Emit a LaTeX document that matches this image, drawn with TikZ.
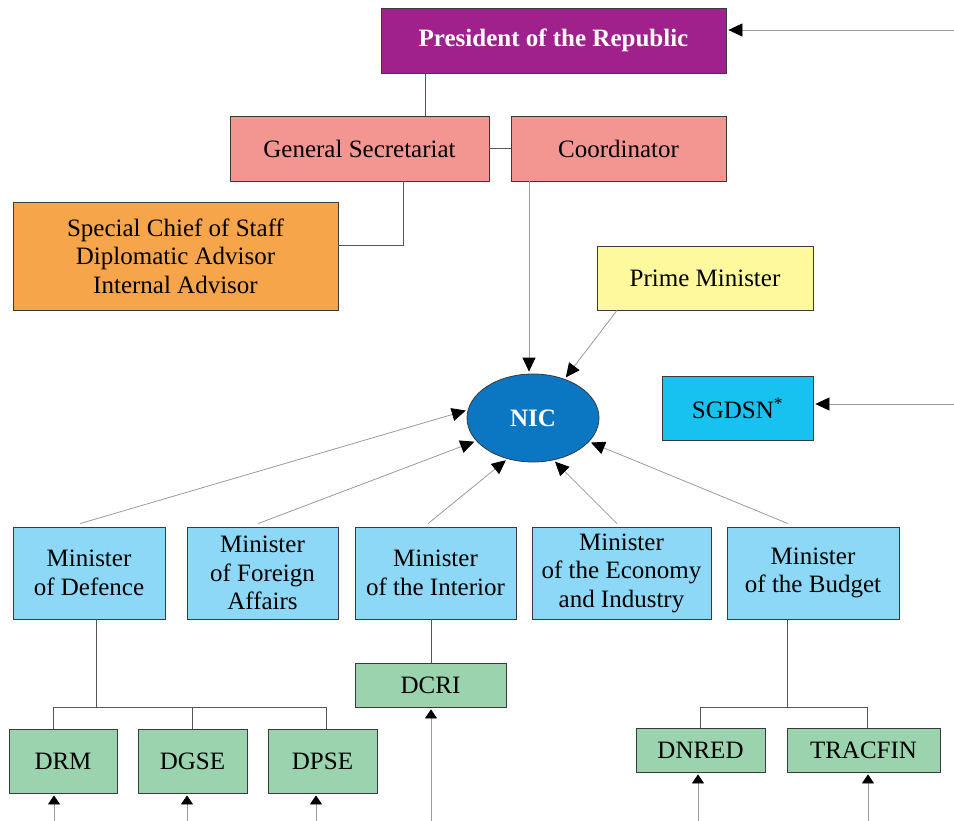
\documentclass[tikz,border=0pt]{standalone}
\usepackage{fontspec}
\setmainfont{Liberation Serif}
\usetikzlibrary{arrows.meta,shapes.geometric}

\definecolor{boxline}{HTML}{3A3A3A}
\definecolor{linkgrey}{HTML}{555555}
\definecolor{feedgrey}{HTML}{9A9A9A}
\definecolor{presfill}{HTML}{A0218C}
\definecolor{secfill}{HTML}{F39591}
\definecolor{advfill}{HTML}{F7A54A}
\definecolor{pmfill}{HTML}{FFF99E}
\definecolor{nicfill}{HTML}{0B77C2}
\definecolor{sgfill}{HTML}{17C2F0}
\definecolor{minfill}{HTML}{8DD8F6}
\definecolor{agfill}{HTML}{9AD3AE}

\tikzset{
  org/.style={draw=boxline, line width=0.8pt, align=center, inner sep=0pt,
    font=\fontsize{25}{28.5}\selectfont},
  link/.style={draw=linkgrey, line width=0.9pt},
  feed/.style={draw=feedgrey, line width=0.8pt, shorten >=2pt,
    -{Triangle[length=14pt,width=13pt,color=black]}},
  feedup/.style={draw=feedgrey, line width=0.8pt, shorten >=2pt,
    -{Triangle[length=9pt,width=12pt,color=black]}},
}

\begin{document}
\begin{tikzpicture}[x=1pt,y=-1pt]
\useasboundingbox (0,0) rectangle (954,821);

% Top
\node[org, fill=presfill, text=white, minimum width=345pt, minimum height=65pt,
  font=\fontsize{25}{28.5}\selectfont\bfseries] (pres) at (553.5,40.5) {President of the Republic};
\node[org, fill=secfill, minimum width=259pt, minimum height=65pt] (gen-sec) at (359.5,148.5) {General Secretariat};
\node[org, fill=secfill, minimum width=215pt, minimum height=65pt] (coord) at (618.5,148.5) {Coordinator};
\node[org, fill=advfill, minimum width=325pt, minimum height=108pt] (advisors) at (175.5,256)
  {Special Chief of Staff\\Diplomatic Advisor\\Internal Advisor};
\node[org, fill=pmfill, minimum width=216pt, minimum height=64pt] (pm) at (705,278) {Prime Minister};
\node[org, ellipse, fill=nicfill, text=white, minimum width=132pt, minimum height=88pt,
  font=\fontsize{25}{28.5}\selectfont\bfseries] (nic) at (533,418) {NIC};
\node[org, fill=sgfill, minimum width=151pt, minimum height=64pt] (sgdsn) at (737.5,408) {SGDSN\textsuperscript{*}};

% Ministers
\node[org, fill=minfill, minimum width=152pt, minimum height=92pt] (def) at (89,573) {Minister\\of Defence};
\node[org, fill=minfill, minimum width=151pt, minimum height=92pt] (foreign) at (262.5,573) {Minister\\of Foreign\\Affairs};
\node[org, fill=minfill, minimum width=161pt, minimum height=92pt] (interior) at (435.5,573) {Minister\\of the Interior};
\node[org, fill=minfill, minimum width=179pt, minimum height=92pt] (economy) at (621.5,573) {Minister\\of the Economy\\and Industry};
\node[org, fill=minfill, minimum width=172pt, minimum height=92pt] (budget) at (813,573) {Minister\\of the Budget};

% Agencies
\node[org, fill=agfill, minimum width=108pt, minimum height=64pt] (drm) at (63,761) {DRM};
\node[org, fill=agfill, minimum width=109pt, minimum height=64pt] (dgse) at (192.5,761) {DGSE};
\node[org, fill=agfill, minimum width=109pt, minimum height=64pt] (dpse) at (322.5,761) {DPSE};
\node[org, fill=agfill, minimum width=151pt, minimum height=44pt] (dcri) at (430.5,685) {DCRI};
\node[org, fill=agfill, minimum width=129pt, minimum height=44pt] (dnred) at (700.5,750) {DNRED};
\node[org, fill=agfill, minimum width=153pt, minimum height=44pt] (tracfin) at (863.5,750) {TRACFIN};

% Free ends
\coordinate (pres-in) at (954,30);
\coordinate (sgdsn-in) at (954,404);
\coordinate (drm-in) at (54,821);
\coordinate (dgse-in) at (187,821);
\coordinate (dpse-in) at (316,821);
\coordinate (dcri-in) at (431,821);
\coordinate (dnred-in) at (698,821);
\coordinate (tracfin-in) at (868,821);
\coordinate (def-fork) at (96,707);
\coordinate (budget-fork) at (787,707);

% Hierarchy
\draw[link] ([xshift=-128.5pt]pres.south) -- ([xshift=-128.5pt]pres.south |- gen-sec.north);
\draw[link] (gen-sec) -- (coord);
\draw[link] ([xshift=43.5pt]gen-sec.south) |- ([yshift=11pt]advisors.east);
\draw[link] (def-fork) -- (def-fork |- def.south);
\draw[link] ([xshift=-10pt]drm.north) |- ([xshift=3.5pt]dpse.north |- def-fork) -- ([xshift=3.5pt]dpse.north);
\draw[link] (dgse.north) -- (dgse.north |- def-fork);
\draw[link] ([xshift=0.5pt]dcri.north) -- ([xshift=0.5pt]dcri.north |- interior.south);
\draw[link] (budget-fork) -- (budget-fork |- budget.south);
\draw[link] (dnred.north) |- ([xshift=3.5pt]tracfin.north |- budget-fork) -- ([xshift=3.5pt]tracfin.north);

% Arrows into NIC
\draw[feed] ([xshift=-89.5pt]coord.south) -- ([xshift=-89.5pt]coord.south |- nic.north);
\draw[feed] ([xshift=-88pt]pm.south) -- (nic.51);
\draw[feed] ([xshift=-9pt,yshift=3pt]def.north) -- (nic.173);
\draw[feed] ([xshift=-4.5pt,yshift=3pt]foreign.north) -- (nic.202);
\draw[feed] ([xshift=-7.5pt,yshift=3pt]interior.north) -- (nic.238);
\draw[feed] ([xshift=-4.5pt,yshift=3pt]economy.north) -- (nic.296);
\draw[feed] ([xshift=-25pt,yshift=3pt]budget.north) -- (nic.337);

% Outside inputs
\draw[feed] (pres-in) -- (pres-in -| pres.east);
\draw[feed] (sgdsn-in) -- (sgdsn-in -| sgdsn.east);
\draw[feedup] (drm-in) -- (drm-in |- drm.south);
\draw[feedup] (dgse-in) -- (dgse-in |- dgse.south);
\draw[feedup] (dpse-in) -- (dpse-in |- dpse.south);
\draw[feedup] (dcri-in) -- (dcri-in |- dcri.south);
\draw[feedup] (dnred-in) -- (dnred-in |- dnred.south);
\draw[feedup] (tracfin-in) -- (tracfin-in |- tracfin.south);
\end{tikzpicture}
\end{document}
